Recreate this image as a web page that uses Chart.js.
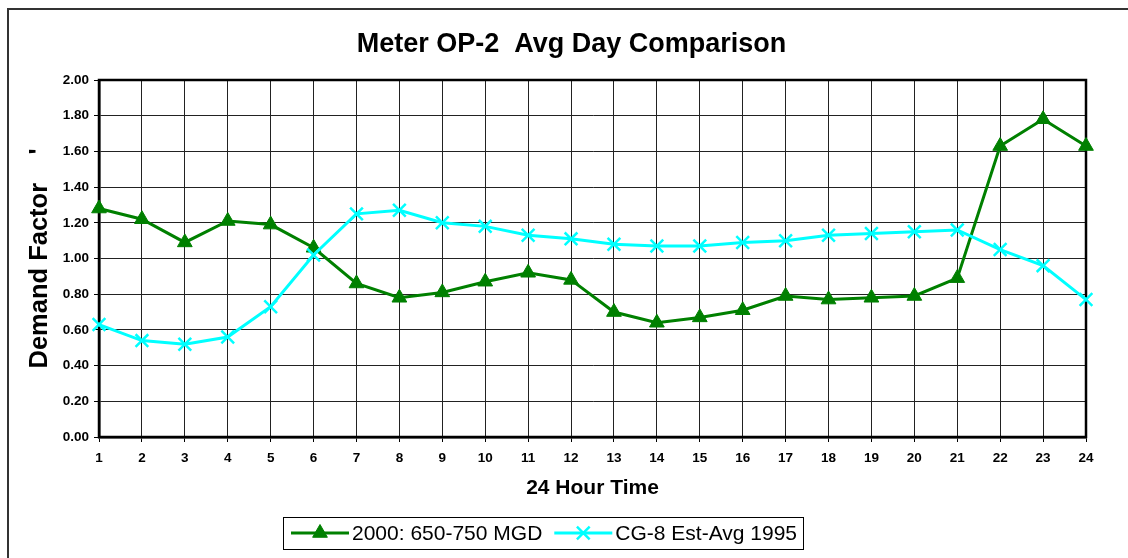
<!DOCTYPE html>
<html>
<head>
<meta charset="utf-8">
<script src="https://cdn.jsdelivr.net/npm/chart.js@4/dist/chart.umd.min.js"></script>
<style>
  html, body { margin: 0; padding: 0; background: #ffffff; }
  #wrap { width: 1128px; height: 558px; position: relative; }
</style>
</head>
<body>
<div id="wrap"><canvas id="c" width="1128" height="558"></canvas></div>
<script>
// ---- data ----
const hours = ['1','2','3','4','5','6','7','8','9','10','11','12','13','14','15','16','17','18','19','20','21','22','23','24'];
const series2000 = [1.28,1.22,1.09,1.21,1.19,1.06,0.86,0.78,0.81,0.87,0.92,0.88,0.70,0.64,0.67,0.71,0.79,0.77,0.78,0.79,0.89,1.63,1.78,1.63];
const seriesCG8 = [0.63,0.54,0.52,0.56,0.73,1.02,1.25,1.27,1.20,1.18,1.13,1.11,1.08,1.07,1.07,1.09,1.10,1.13,1.14,1.15,1.16,1.05,0.96,0.77];
const yTickValues = [0,0.2,0.4,0.6,0.8,1.0,1.2,1.4,1.6,1.8,2.0];
const seriesNames = ['2000: 650-750 MGD', 'CG-8 Est-Avg 1995'];
const chartTitle = 'Meter OP-2  Avg Day Comparison';
const xTitle = '24 Hour Time';
const yTitle = "Demand Factor    '";

const FONT = "'Liberation Sans', Arial, Helvetica, sans-serif";

const framePlugin = {
  id: 'frame',
  beforeDraw(chart) {
    const ctx = chart.ctx;
    ctx.save();
    ctx.fillStyle = '#ffffff';
    ctx.fillRect(0, 0, chart.width, chart.height);
    ctx.strokeStyle = '#333333';
    ctx.lineWidth = 2;
    ctx.strokeRect(8, 9, chart.width + 20, chart.height + 20);
    // chart title
    ctx.fillStyle = '#000000';
    ctx.font = 'bold 27px ' + FONT;
    ctx.textAlign = 'center';
    ctx.textBaseline = 'middle';
    ctx.fillText(chartTitle, 571.5, 45);
    ctx.restore();
  },
  beforeDatasetsDraw(chart) {
    const a = chart.chartArea;
    const ctx = chart.ctx;
    ctx.save();
    ctx.strokeStyle = '#000000';
    ctx.lineWidth = 2.5;
    ctx.strokeRect(a.left, a.top, a.right - a.left, a.bottom - a.top);
    ctx.restore();
  }
};

const legendPlugin = {
  id: 'customLegend',
  afterDraw(chart) {
    const ctx = chart.ctx;
    const ds = chart.data.datasets;
    ctx.save();
    ctx.font = '21px ' + FONT;
    const lineLen = 58, gap = 3, between = 12, padL = 8, padR = 6;
    let total = padL + padR;
    ds.forEach((d, i) => {
      total += lineLen + gap + ctx.measureText(d.label).width + (i < ds.length - 1 ? between : 0);
    });
    const cx = 543, cy = 533, h = 32;
    let x = cx - total / 2;
    ctx.fillStyle = '#ffffff';
    ctx.fillRect(x, cy - h / 2, total, h);
    ctx.strokeStyle = '#000000';
    ctx.lineWidth = 1;
    ctx.strokeRect(Math.round(x) + 0.5, Math.round(cy - h / 2) + 0.5, Math.round(total), h);
    x += padL;
    ds.forEach((d, i) => {
      ctx.strokeStyle = d.borderColor;
      ctx.lineWidth = d.borderWidth;
      ctx.beginPath();
      ctx.moveTo(x, cy);
      ctx.lineTo(x + lineLen, cy);
      ctx.stroke();
      ctx.fillStyle = d.pointBackgroundColor;
      ctx.strokeStyle = d.pointBorderColor;
      ctx.lineWidth = d.pointBorderWidth;
      Chart.helpers.drawPoint(ctx, {pointStyle: d.pointStyle, radius: d.pointRadius, rotation: 0, borderWidth: d.pointBorderWidth}, x + lineLen / 2, cy);
      x += lineLen + gap;
      ctx.fillStyle = '#000000';
      ctx.textBaseline = 'middle';
      ctx.textAlign = 'left';
      ctx.fillText(d.label, x, cy + 1);
      x += ctx.measureText(d.label).width + between;
    });
    ctx.restore();
  }
};

new Chart(document.getElementById('c'), {
  type: 'line',
  data: {
    labels: hours,
    datasets: [
      {
        label: seriesNames[0],
        data: series2000,
        borderColor: '#008000',
        backgroundColor: '#008000',
        borderWidth: 3,
        pointStyle: 'triangle',
        pointRadius: 8.5,
        pointHoverRadius: 8.5,
        pointBackgroundColor: '#008000',
        pointBorderColor: '#008000',
        pointBorderWidth: 1,
        tension: 0,
        order: 1
      },
      {
        label: seriesNames[1],
        data: seriesCG8,
        borderColor: '#00FFFF',
        backgroundColor: '#00FFFF',
        borderWidth: 3,
        pointStyle: 'crossRot',
        pointRadius: 9,
        pointHoverRadius: 9,
        pointBackgroundColor: '#00FFFF',
        pointBorderColor: '#00FFFF',
        pointBorderWidth: 2.5,
        tension: 0,
        order: 0
      }
    ]
  },
  options: {
    responsive: false,
    animation: false,
    devicePixelRatio: 1,
    layout: { padding: { left: 0, top: 80, right: 42, bottom: 0 } },
    plugins: {
      legend: { display: false },
      tooltip: { enabled: false },
      title: { display: false }
    },
    scales: {
      x: {
        type: 'category',
        offset: false,
        afterFit(s) { s.height = 121; },
        grid: { display: true, color: '#222222', lineWidth: 1, drawTicks: true, tickLength: 5, tickColor: '#000000' },
        border: { display: true, color: '#000000', width: 2.5 },
        ticks: { color: '#000000', font: { family: FONT, size: 13.5, weight: 'bold' }, padding: 8, maxRotation: 0, autoSkip: false },
        title: { display: true, text: xTitle, color: '#000000', font: { family: FONT, size: 21, weight: 'bold' }, padding: { top: 0, bottom: 57.5 } }
      },
      y: {
        type: 'linear',
        min: 0,
        max: 2,
        afterFit(s) { s.width = 99; },
        afterBuildTicks(s) { s.ticks = yTickValues.map(v => ({ value: v })); },
        grid: { display: true, color: '#222222', lineWidth: 1, drawTicks: true, tickLength: 5, tickColor: '#000000' },
        border: { display: true, color: '#000000', width: 2.5 },
        ticks: { color: '#000000', font: { family: FONT, size: 13.5, weight: 'bold' }, padding: 5, callback: v => Number(v).toFixed(2) },
        title: { display: true, text: yTitle, color: '#000000', font: { family: FONT, size: 25.5, weight: 'bold' }, padding: { top: 24.5, bottom: 0 } }
      }
    }
  },
  plugins: [framePlugin, legendPlugin]
});
</script>
</body>
</html>
